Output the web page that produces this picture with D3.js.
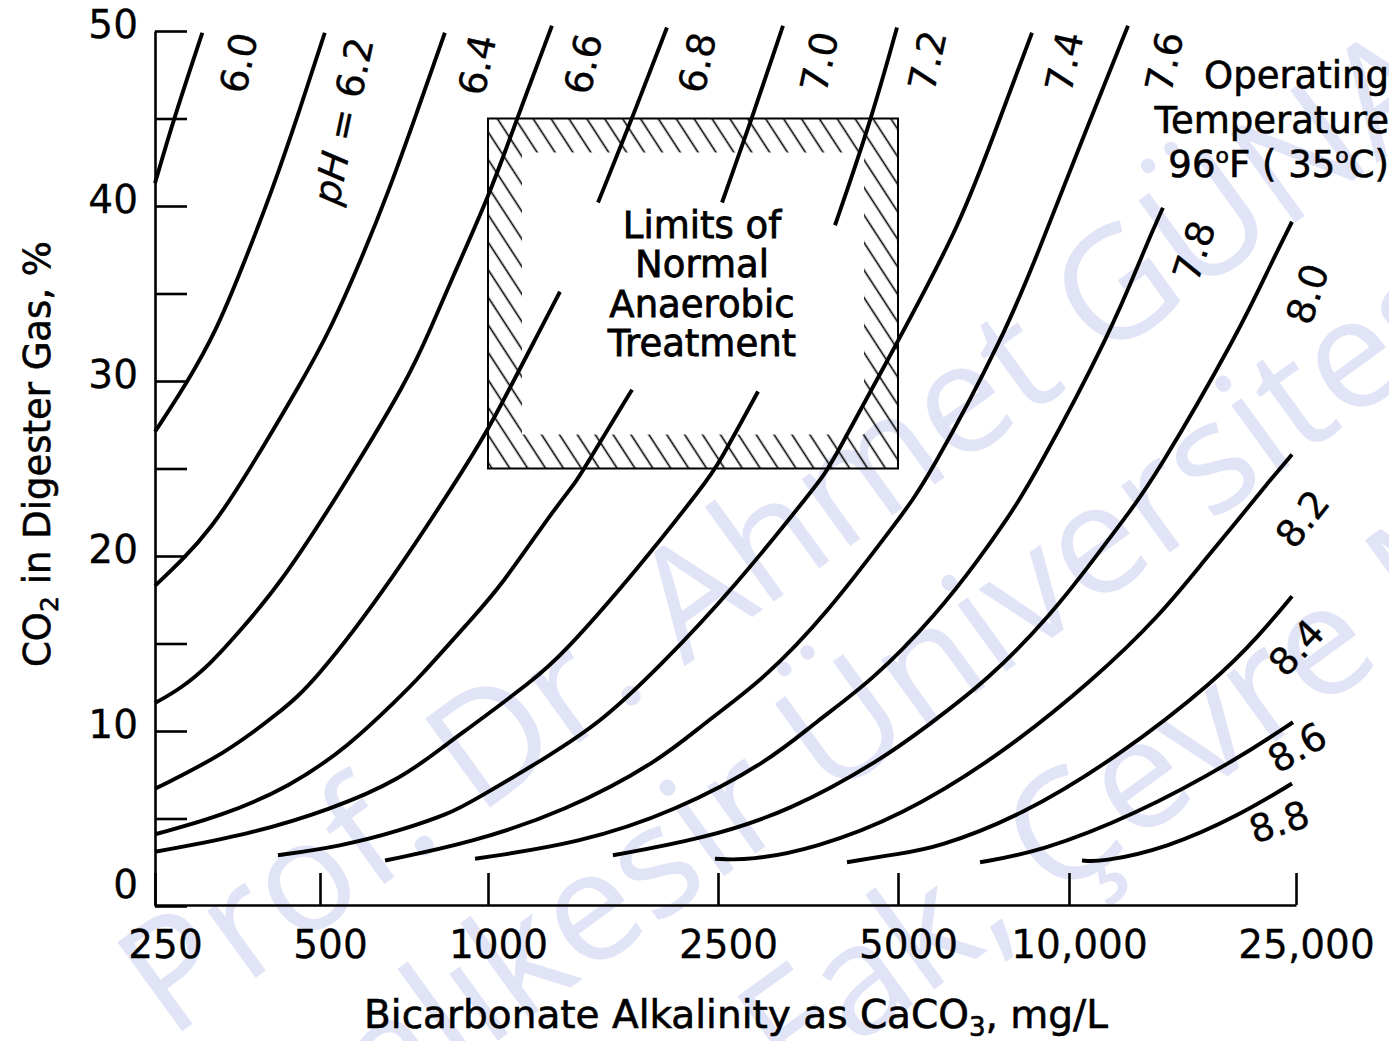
<!DOCTYPE html>
<html>
<head>
<meta charset="utf-8">
<script src="https://cdn.jsdelivr.net/npm/d3@7"></script>
<style>
  html, body { margin: 0; padding: 0; background: #fff; }
  svg { display: block; }
</style>
</head>
<body>
<svg id="chart" width="1389" height="1041"></svg>
<script>
// ---------------------------------------------------------------
// pH isopleths at 35 °C: each point is
// [bicarbonate alkalinity, mg/L as CaCO3 ; CO2 in digester gas, %]
// ---------------------------------------------------------------
const ph60 = [[250,41.3],[270,44.9],[305,49.9]];
const ph62 = [[250,27.1],[286,29.9],[324,32.9],[365,36.9],[409,40.9],[456,45.2],[510,49.9]];
const ph64 = [[250,18.3],[281,19.8],[315,21.5],[362,24.3],[466,30.1],[521,32.9],[592,36.9],[665,40.9],[743,45.2],[837,49.9]];
const ph66 = [[250,11.6],[278,12.4],[315,13.8],[357,15.7],[428,18.6],[559,24.3],[719,30.1],[787,32.9],[855,35.6],[1008,40.7],[1114,44.7],[1290,50.3]];
const ph68 = [[250,6.7],[336,8.7],[423,11.1],[486,12.7],[673,18.6],[928,25.5],[1008,27.4],[1230,32.9],[1332,35.1],[1550,40.2],[1761,44.7],[2040,50.2]];
const ph70 = [[250,4.1],[328,5.1],[441,6.8],[566,9.2],[687,11.8],[746,12.9],[928,16.3],[1049,18.2],[1296,22.6],[1426,24.3],[1472,25.1],[1775,29.5],[2539,40.2],[2828,44.7],[3211,50.3]];
const ph72 = [[250,3.1],[373,4.1],[521,5.5],[696,7.2],[855,9.4],[928,10.2],[1196,12.9],[1332,14.2],[1811,19.2],[2393,24.3],[2490,25.1],[2917,29.4],[3923,38.9],[4489,44.7],[4981,50.2]];
const ph74 = [[419,2.9],[543,3.4],[696,4.3],[855,5.3],[928,5.9],[1280,8.6],[1581,10.6],[1984,13.7],[2649,18.1],[3703,24.3],[3848,25.1],[5041,32.5],[6428,38.9],[7499,44.7],[8607,49.9]];
const ph76 = [[654,2.6],[928,3.6],[1359,5.4],[1984,8.3],[2374,10.5],[2973,12.9],[3804,16.7],[5041,22.2],[5623,24.3],[7778,32.9],[8855,37.5],[10670,44.2],[12690,50.3]];
const ph78 = [[948,2.7],[1443,3.6],[2106,5.4],[3054,8.3],[3632,10.5],[4541,12.9],[5857,16.7],[6972,19.9],[7809,22.2],[8607,24.3],[11900,32.9],[13540,37.5],[14610,39.9]];
const ph80 = [[1645,2.9],[2327,3.8],[3299,5.4],[4756,8.5],[5578,10.2],[7202,12.9],[9334,16.7],[11110,19.9],[12540,22.2],[14040,24.3],[19940,32.9],[22510,36.6],[24600,39.1]];
const ph82 = [[2470,2.7],[2828,2.6],[3632,3.3],[5041,5.1],[7560,8.6],[11020,12.9],[14440,16.6],[17320,19.8],[19940,22.2],[22330,24.2],[24600,25.8]];
const ph84 = [[4108,2.5],[5041,3.0],[5809,3.3],[8199,5.1],[12290,8.6],[18100,12.9],[21620,15.5],[24600,17.7]];
const ph86 = [[6972,2.5],[8890,3.1],[13050,5.2],[19540,8.3],[24700,10.5]];
const ph88 = [[10540,2.6],[11330,2.5],[14850,3.3],[19940,5.2],[24600,7.0]];

const pHLabels = ["6.0","pH = 6.2","6.4","6.6","6.8","7.0","7.2","7.4","7.6","7.8","8.0","8.2","8.4","8.6","8.8"];
const pHSeries = [ph60,ph62,ph64,ph66,ph68,ph70,ph72,ph74,ph76,ph78,ph80,ph82,ph84,ph86,ph88];

// Stretches of three isopleths left open around the box caption: [series index, CO2 from, CO2 to]
const captionGaps = [[4,35.1,40.2],[5,29.5,40.2],[6,29.4,38.9]];

// Limits of normal anaerobic treatment: alkalinity and CO2 ranges
const normalAlk = [1000, 5000];
const normalCO2 = [25, 45];

// Axis ticks
const alkTicks = [250,500,1000,2500,5000,10000,25000];
const alkTickLabels = ["250","500","1000","2500","5000","10,000","25,000"];
const co2Ticks = [0,5,10,15,20,25,30,35,40,45,50];
const co2TickLabels = ["0","","10","","20","","30","","40","","50"];

// Texts
const boxCaption = ["Limits of","Normal","Anaerobic","Treatment"];
const watermarkLines = ["Prof. Dr. Ahmet GÜNAY","Balıkesir Üniversitesi","Fak, Çevre Mühendisliği"];

// ---------------------------------------------------------------
const FONT = "'DejaVu Sans', 'Liberation Sans', sans-serif";
const svg = d3.select("#chart");

// Alkalinity axis is logarithmic between the printed ticks
const x = d3.scaleLog().domain(alkTicks).range([155,320,488,718,898,1069,1296]);
const y = d3.scaleLinear().domain([0,50]).range([906,31]);

// faint background lettering
const wmLayout = [[170,1040],[306,1180],[790,1094]];
const wm = svg.append("g")
  .attr("fill","#e1e4f6")
  .attr("font-family","'Open Sans', 'Noto Sans', sans-serif")
  .attr("font-size",154);
watermarkLines.forEach((t,i) => {
  wm.append("text")
    .attr("transform",`translate(${wmLayout[i][0]},${wmLayout[i][1]}) rotate(-36)`)
    .text(t);
});

// ---- hatched box ----
const defs = svg.append("defs");
defs.append("pattern")
  .attr("id","hatch")
  .attr("patternUnits","userSpaceOnUse")
  .attr("width",15).attr("height",15)
  .attr("patternTransform","rotate(-33)")
  .append("line")
  .attr("x1",7.5).attr("y1",-1).attr("x2",7.5).attr("y2",16)
  .attr("stroke","#000").attr("stroke-width",1.6);

const bx0 = x(normalAlk[0]), bx1 = x(normalAlk[1]);
const by0 = y(normalCO2[1]), by1 = y(normalCO2[0]);
const band = 34;
svg.append("path")
  .attr("d",`M${bx0},${by0}H${bx1}V${by1}H${bx0}Z M${bx0+band},${by0+band}V${by1-band}H${bx1-band}V${by0+band}Z`)
  .attr("fill","url(#hatch)")
  .attr("fill-rule","evenodd");
svg.append("rect")
  .attr("x",bx0).attr("y",by0)
  .attr("width",bx1-bx0).attr("height",by1-by0)
  .attr("fill","none").attr("stroke","#000").attr("stroke-width",2);

// caption in the box
const capX = (bx0+bx1)/2 + 9;
const capY = (by0+by1)/2 - 56;
const cap = svg.append("text")
  .attr("font-family",FONT).attr("font-size",37)
  .attr("text-anchor","middle")
  .attr("stroke","#000").attr("stroke-width",0.8);
boxCaption.forEach((t,i) => {
  cap.append("tspan").attr("x",capX).attr("y",capY + i*39.5).text(t);
});

// ---- axes ----
const xAxis = d3.axisBottom(x)
  .tickValues(alkTicks)
  .tickFormat((d,i) => alkTickLabels[i])
  .tickSizeInner(-32).tickSizeOuter(0).tickPadding(25);
const gx = svg.append("g").attr("transform",`translate(0,${y(0)-1})`).call(xAxis);
gx.attr("font-family",FONT).attr("font-size",39);
gx.selectAll("path, line").attr("stroke","#000").attr("stroke-width",2.6);
gx.selectAll(".tick text").attr("dx",10).attr("fill","#000")
  .attr("stroke","#000").attr("stroke-width",0.3);

const yAxis = d3.axisLeft(y)
  .tickValues(co2Ticks)
  .tickFormat((d,i) => co2TickLabels[i])
  .tickSizeInner(-32).tickSizeOuter(0).tickPadding(17);
const gy = svg.append("g").attr("transform",`translate(${x(250)},0)`).call(yAxis);
gy.attr("font-family",FONT).attr("font-size",39);
gy.selectAll("path, line").attr("stroke","#000").attr("stroke-width",2.6);
gy.selectAll(".tick text").attr("fill","#000").attr("y", d => d === 0 ? -21 : -6)
  .attr("stroke","#000").attr("stroke-width",0.3);

// axis titles
const xt = svg.append("text")
  .attr("x",736).attr("y",1028)
  .attr("font-family",FONT).attr("font-size",39)
  .attr("text-anchor","middle").attr("fill","#000")
  .attr("stroke","#000").attr("stroke-width",0.6);
xt.append("tspan").text("Bicarbonate Alkalinity as CaCO");
xt.append("tspan").attr("font-size",26).attr("dy",8).text("3");
xt.append("tspan").attr("dy",-8).text(", mg/L");

const yt = svg.append("text")
  .attr("transform","translate(50,454) rotate(-90)")
  .attr("font-family",FONT).attr("font-size",37)
  .attr("text-anchor","middle").attr("fill","#000")
  .attr("stroke","#000").attr("stroke-width",0.6);
yt.append("tspan").text("CO");
yt.append("tspan").attr("font-size",25).attr("dy",8).text("2");
yt.append("tspan").attr("dy",-8).text(" in Digester Gas, %");

// ---- pH isopleths (smoothed through the read points) ----
const line = d3.line()
  .x(d => x(d[0]))
  .y(d => y(d[1]))
  .curve(d3.curveBasis);

const curveG = svg.append("g")
  .attr("fill","none").attr("stroke","#000")
  .attr("stroke-width",3.9).attr("stroke-linecap","butt");

pHSeries.forEach((pts,i) => {
  const gap = captionGaps.find(g => g[0] === i);
  const pieces = gap
    ? [pts.filter(p => p[1] <= gap[1]), pts.filter(p => p[1] >= gap[2])]
    : [pts];
  pieces.forEach(seg => curveG.append("path").attr("d", line(seg)));
});

// ---- pH labels, set beside the upper end of each isopleth ----
// [dx, dy from the curve end to the label centre, rotation]
const labelLayout = [
  [36,30,-78],[18,88,-78],[32,32,-78],[31,38,-78],[30,35,-78],[36,36,-78],[30,33,-78],
  [32,29,-78],[36,36,-78],[31,43,-72],[15,72,-72],[10,64,-52],[4,51,-47],[4,25,-30],[-13,38,-18]
];
const lab = svg.append("g").attr("font-family",FONT).attr("font-size",38).attr("fill","#000")
  .attr("stroke","#000").attr("stroke-width",0.3);
pHSeries.forEach((pts,i) => {
  const end = pts[pts.length-1];
  const cx = x(end[0]) + labelLayout[i][0];
  const cy = y(end[1]) + labelLayout[i][1];
  const t = lab.append("text")
    .attr("transform",`translate(${cx},${cy}) rotate(${labelLayout[i][2]})`)
    .attr("text-anchor","middle")
    .attr("dy","0.36em");
  const txt = pHLabels[i];
  if (txt.startsWith("pH")) {
    t.append("tspan").attr("font-style","italic").text("pH");
    t.append("tspan").text(txt.slice(2));
  } else {
    t.text(txt);
  }
});

// ---- operating temperature note ----
const note = svg.append("text")
  .attr("font-family",FONT).attr("font-size",37)
  .attr("text-anchor","end").attr("fill","#000")
  .attr("stroke","#000").attr("stroke-width",0.6);
note.append("tspan").attr("x",1389).attr("y",88).text("Operating");
note.append("tspan").attr("x",1389).attr("y",133).text("Temperature");
const l3 = note.append("tspan").attr("x",1389).attr("y",177);
l3.append("tspan").text("96");
l3.append("tspan").attr("font-size",22).attr("dy",-14).text("o");
l3.append("tspan").attr("dy",14).text("F ( 35");
l3.append("tspan").attr("font-size",22).attr("dy",-14).text("o");
l3.append("tspan").attr("dy",14).text("C)");
</script>
</body>
</html>
